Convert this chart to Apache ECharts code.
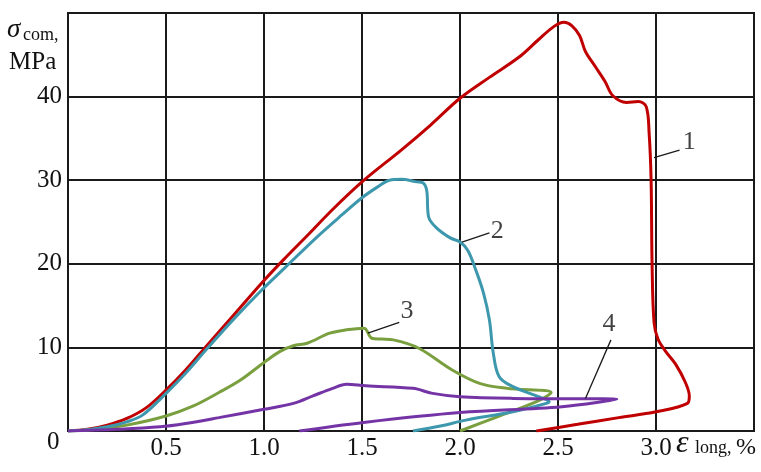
<!DOCTYPE html>
<html>
<head>
<meta charset="utf-8">
<script src="https://cdn.jsdelivr.net/npm/echarts@6/dist/echarts.min.js"></script>
<style>html,body{margin:0;padding:0;background:#fff}#c{width:761px;height:472px}</style>
</head>
<body>
<div id="c"></div>
<script>
// x: longitudinal strain, %; y: compressive stress, MPa
const curve1 = [[0,0],[0.1,0.2],[0.2,0.7],[0.3,1.5],[0.4,2.8],[0.5,4.9],[0.6,7.3],[0.7,10],[0.85,14],[1.0,18],[1.1,20.5],[1.23,23.6],[1.35,26.5],[1.5,29.8],[1.7,33.6],[1.85,36.6],[2.0,39.8],[2.15,42.3],[2.3,44.7],[2.4,46.8],[2.48,48.4],[2.53,48.9],[2.57,48.5],[2.61,47.3],[2.64,45.4],[2.69,43.6],[2.74,41.8],[2.78,40.1],[2.85,39.3],[2.91,39.4],[2.95,38.8],[2.965,35.6],[2.975,30],[2.98,20],[2.99,13],[3.01,11],[3.05,9.5],[3.1,8],[3.15,5.8],[3.17,4.2],[3.16,3.3],[3.0,2.3],[2.81,1.6],[2.6,0.8],[2.39,0]];
const curve2 = [[0,0],[0.1,0.15],[0.2,0.5],[0.3,1.1],[0.38,1.9],[0.5,4.5],[0.6,6.9],[0.7,9.6],[0.85,13.5],[0.99,16.9],[1.11,19.6],[1.27,23.2],[1.4,25.9],[1.5,27.9],[1.58,29.2],[1.64,30],[1.7,30.1],[1.78,29.8],[1.81,29.7],[1.83,28.8],[1.84,25.6],[1.88,24.3],[1.95,23.1],[2.0,22.6],[2.04,21.6],[2.08,19.3],[2.12,16.5],[2.15,13.3],[2.17,9.3],[2.2,6.5],[2.27,5.3],[2.4,4.1],[2.455,3.5],[2.44,3.3],[2.27,2.3],[2.03,1.3],[1.9,0.6],[1.76,0]];
const curve3 = [[0,0],[0.15,0.2],[0.3,0.7],[0.5,1.8],[0.64,3.0],[0.77,4.6],[0.88,6.1],[1.0,8.2],[1.08,9.5],[1.15,10.2],[1.22,10.5],[1.335,11.7],[1.42,12.1],[1.51,12.3],[1.55,11.1],[1.6,11.0],[1.66,10.9],[1.79,9.9],[1.96,7.3],[2.1,5.7],[2.24,5.1],[2.465,4.6],[2.39,3.5],[2.19,1.7],[2.0,0]];
const curve4 = [[0,0],[0.25,0.2],[0.47,0.5],[0.6,0.9],[0.77,1.6],[1.0,2.6],[1.15,3.3],[1.25,4.2],[1.35,5.1],[1.42,5.6],[1.52,5.4],[1.76,5.1],[1.86,4.5],[2.0,4.1],[2.27,3.9],[2.8,3.8],[2.52,2.9],[2.0,2.2],[1.5,1.0],[1.18,0]];
const curveNames = ['1','2','3','4'];
const curveColors = ['#c00000','#3d97ad','#7a9f3f','#7434a6'];
// leader lines: [from, to] and label anchor
const leaders = [
  [[2.99,32.7],[3.12,33.6]],
  [[2.01,22.6],[2.15,23.7]],
  [[1.53,11.7],[1.69,13.0]],
  [[2.64,3.9],[2.77,10.9]]
];
const labelPos = [[3.17,34.5],[2.19,23.9],[1.73,14.3],[2.76,12.8]];
const xTicks = [0,0.5,1.0,1.5,2.0,2.5,3.0,3.5];
const yTicks = [0,10,20,30,40,50];

const chart = echarts.init(document.getElementById('c'));
const serif = 'Liberation Serif';
const series = [];
[curve1,curve2,curve3,curve4].forEach((d,i)=>{
  series.push({type:'line',data:d,smooth:0.35,showSymbol:false,symbol:'none',
    lineStyle:{color:curveColors[i],width:3},z:3+i%2,animation:false});
});
leaders.forEach(l=>{
  series.push({type:'line',data:l,showSymbol:false,symbol:'none',lineStyle:{color:'#1a1a1a',width:1.3},z:6,animation:false});
});
series.push({type:'scatter',symbolSize:0,animation:false,
  data:labelPos.map((p,i)=>({value:p,label:{show:true,position:'inside',formatter:curveNames[i],fontFamily:serif,fontSize:26,color:'#111'}}))});

chart.setOption({
  animation:false,
  backgroundColor:'#fff',
  grid:{left:68,right:7,top:13,bottom:41,show:true,borderColor:'#1a1a1a',borderWidth:2,containLabel:false},
  xAxis:{type:'value',min:xTicks[0],max:xTicks[xTicks.length-1],interval:0.5,
    axisLine:{show:true,lineStyle:{color:'#1a1a1a',width:2}},axisTick:{show:false},
    splitLine:{show:true,lineStyle:{color:'#1a1a1a',width:2}},
    axisLabel:{fontFamily:serif,fontSize:25,color:'#111',margin:5,
      formatter:v=>(v===0||v===3.5)?'':v.toFixed(1)}},
  yAxis:{type:'value',min:yTicks[0],max:yTicks[yTicks.length-1],interval:10,
    axisLine:{show:true,lineStyle:{color:'#1a1a1a',width:2}},axisTick:{show:false},
    splitLine:{show:true,lineStyle:{color:'#1a1a1a',width:2}},
    axisLabel:{fontFamily:serif,fontSize:25,color:'#111',margin:6,
      formatter:v=>(v===0||v===50)?'':String(v)}},
  graphic:[
    {type:'text',left:47,top:430,style:{text:'0',font:'25px "Liberation Serif"',fill:'#111'}},
    {type:'text',left:7,top:16,style:{text:'σ',font:'italic 27px "Liberation Serif"',fill:'#111'}},
    {type:'text',left:23,top:26,style:{text:'com,',font:'18px "Liberation Serif"',fill:'#111'}},
    {type:'text',left:9,top:50,style:{text:'MPa',font:'25px "Liberation Serif"',fill:'#111'}},
    {type:'text',left:676,top:428,style:{text:'ε',font:'italic 32px "Liberation Serif"',fill:'#111'}},
    {type:'text',left:695,top:439,style:{text:'long,',font:'18px "Liberation Serif"',fill:'#111'}},
    {type:'text',left:736,top:436,style:{text:'%',font:'24px "Liberation Serif"',fill:'#111'}}
  ],
  series:series
});
</script>
</body>
</html>
